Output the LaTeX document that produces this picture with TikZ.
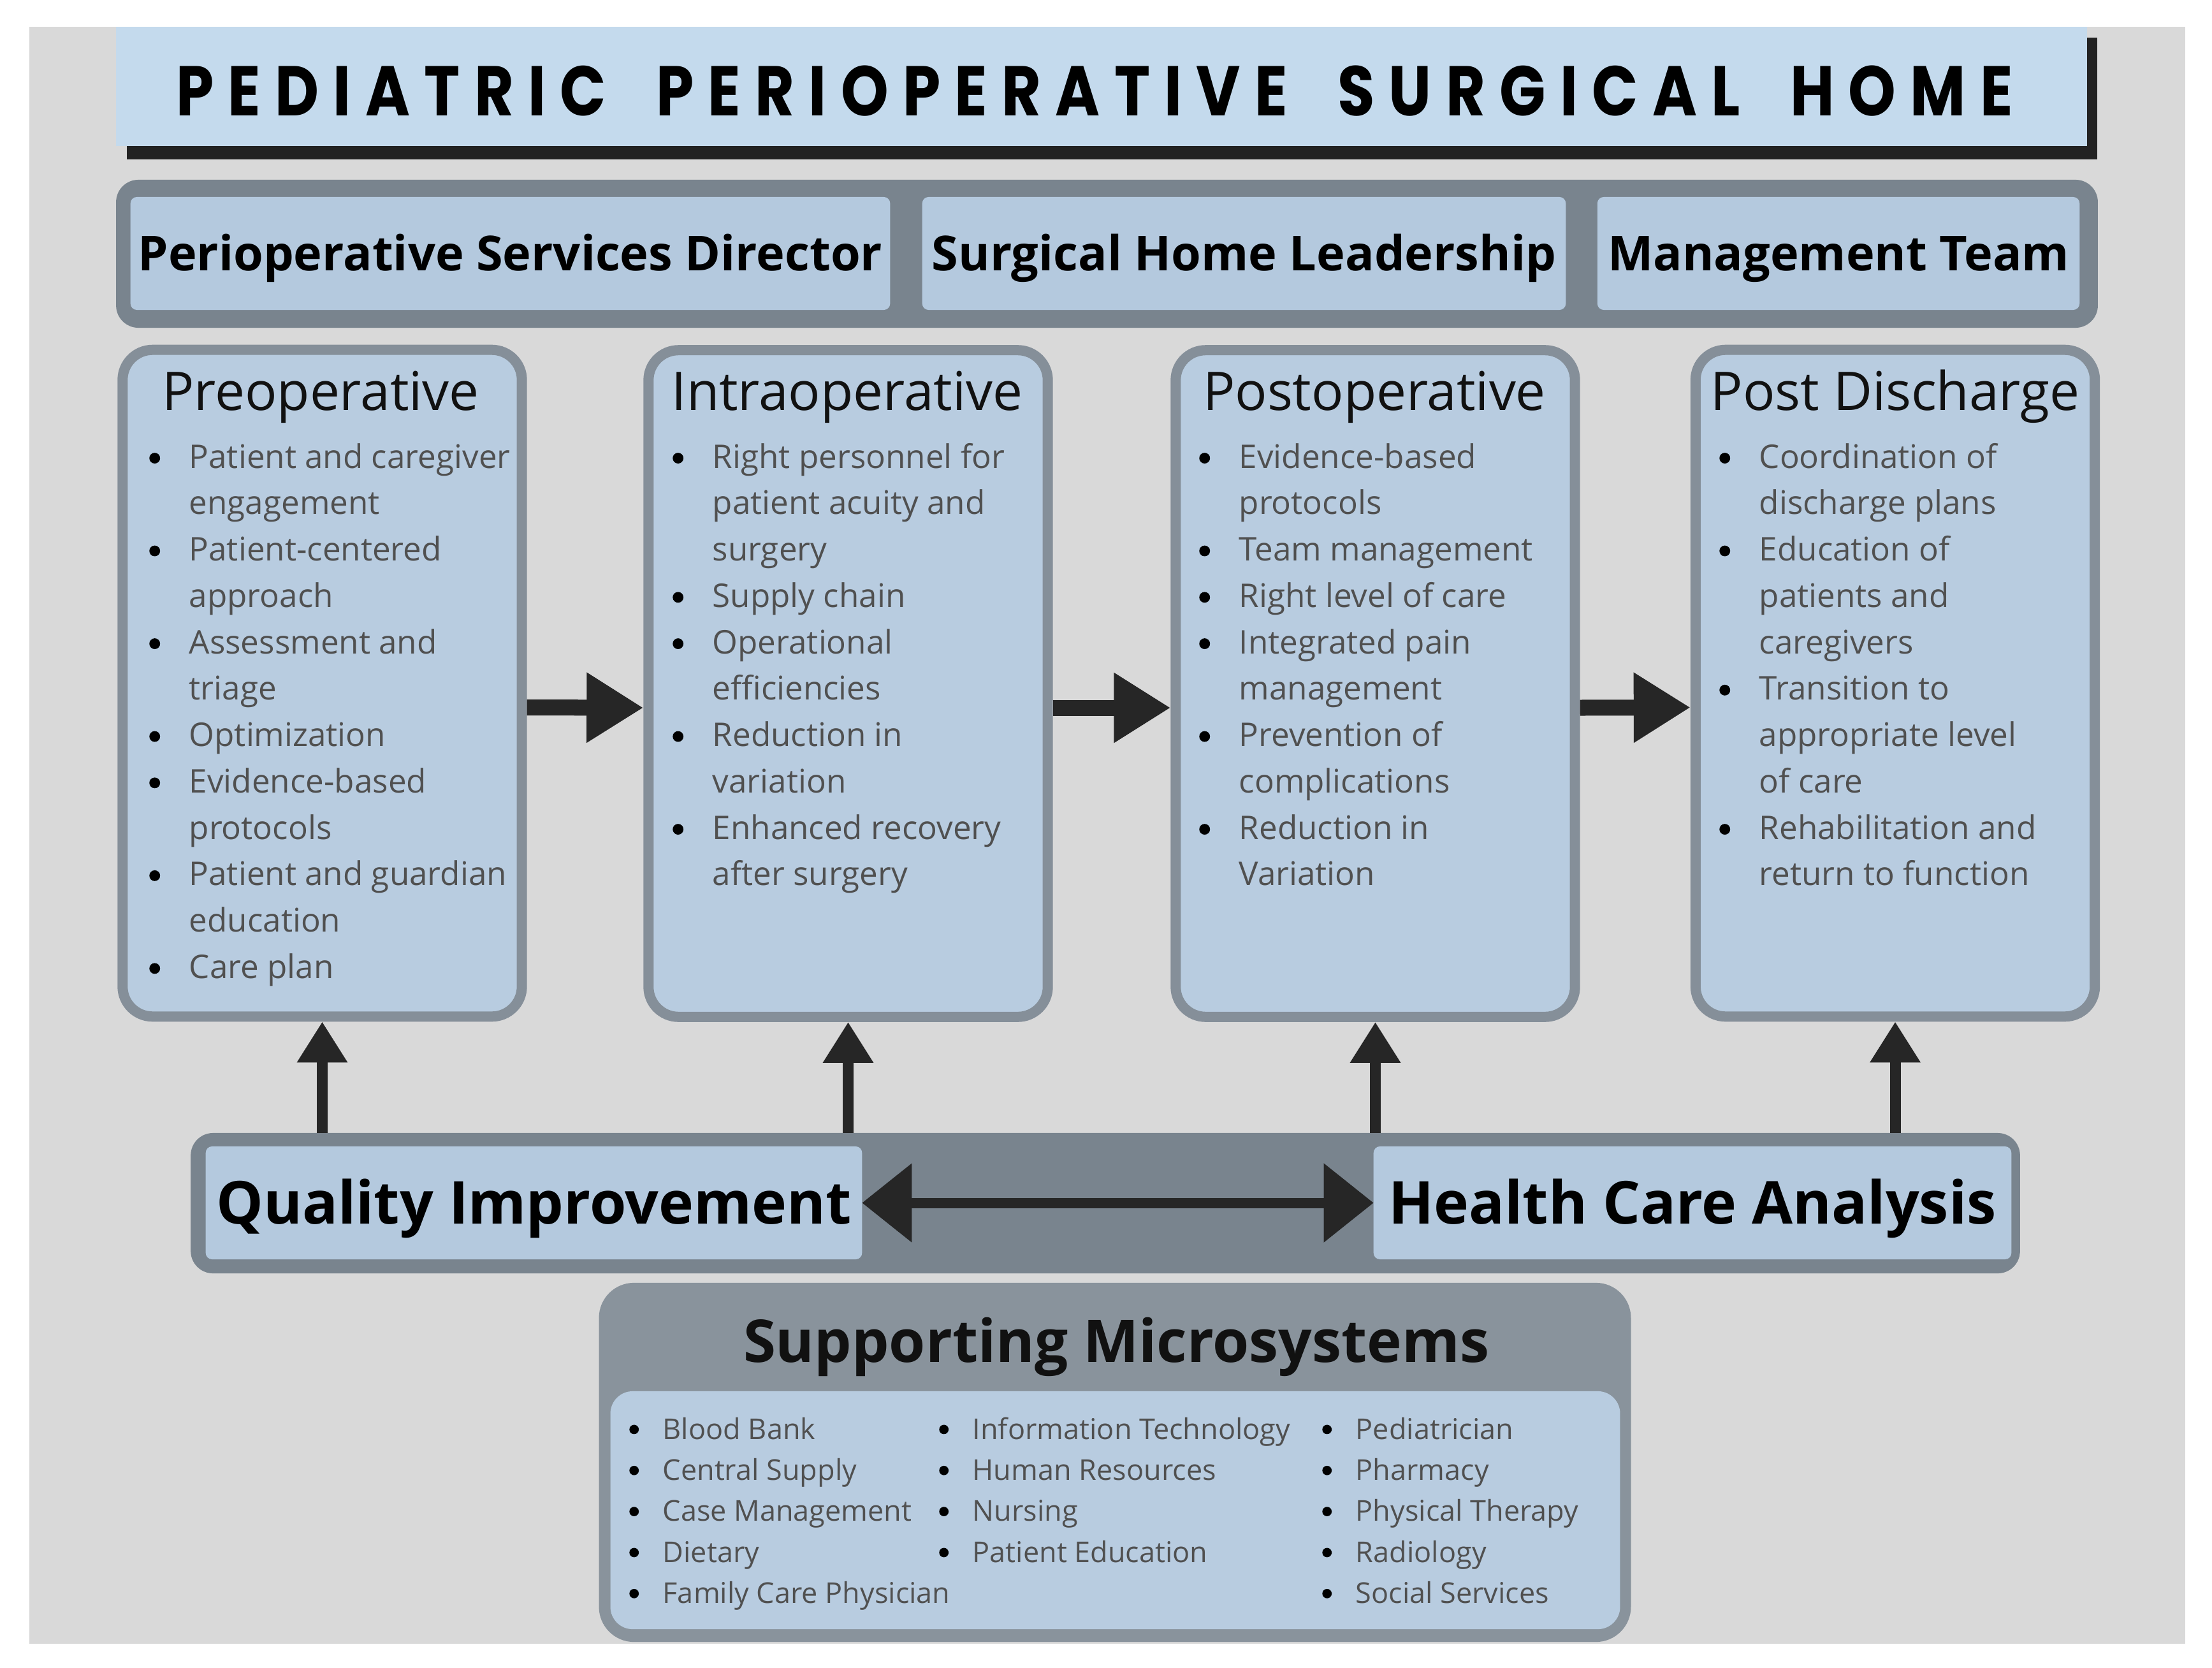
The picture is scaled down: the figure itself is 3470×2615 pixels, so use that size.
\documentclass[tikz,border=0pt]{standalone}
\usepackage{fontspec}
\setmainfont{Open Sans}
\newfontfamily\titlefont{Poppins}[FakeStretch=0.86]
\usetikzlibrary{arrows.meta}
\definecolor{bggray}{HTML}{D9D9D9}
\definecolor{titleblue}{HTML}{C4DAED}
\definecolor{shadowc}{HTML}{222222}
\definecolor{bardark}{HTML}{79848E}
\definecolor{innerblue}{HTML}{B4C9DE}
\definecolor{phaseborder}{HTML}{858F99}
\definecolor{phasefill}{HTML}{B8CCE0}
\definecolor{microouter}{HTML}{89939C}
\definecolor{arrowc}{HTML}{262626}
\definecolor{bodytext}{HTML}{505050}
\definecolor{headtext}{HTML}{111111}
\newcommand{\bulA}{\tikz[baseline=0pt]{\useasboundingbox (0pt,0pt) rectangle (0.64cm,1pt); \fill[black] (0.10cm,4.4pt) circle (2.4pt);}}
\newcommand{\bulB}{\tikz[baseline=0pt]{\useasboundingbox (0pt,0pt) rectangle (0.54cm,1pt); \fill[black] (0.09cm,4.3pt) circle (2.1pt);}}
\newcommand{\mylsp}{\hskip 0pt plus 1fil\relax}
\newcommand{\mywsp}{\hskip 0pt plus 3.5fil\relax}
\begin{document}
\begin{tikzpicture}[x=0.01cm,y=-0.01cm,
  box/.style={inner sep=0pt, outer sep=0pt},
  bar/.style={box, fill=bardark, rounded corners=0.35cm},
  inbox/.style={box, fill=innerblue, rounded corners=0.1cm, minimum height=1.77cm, text height=0.54cm, text depth=0pt, text=black, font=\fontsize{21.5}{26}\selectfont\bfseries},
  lowbox/.style={inbox, text height=0.66cm, font=\fontsize{26.4}{31}\selectfont\bfseries},
  phase/.style={box, draw=phaseborder, line width=0.16cm, fill=phasefill, rounded corners=0.47cm, minimum width=6.26cm, minimum height=10.45cm},
  phasetitle/.style={anchor=base, inner sep=0pt, font=\fontsize{23.8}{28}\selectfont, text=headtext},
  plist/.style={anchor=base west, inner sep=0pt, font=\fontsize{14.55}{20.69}\selectfont, text=bodytext},
  mlist/.style={anchor=base west, inner sep=0pt, font=\fontsize{12.8}{18.3}\selectfont, text=bodytext},
  harrow/.style={draw=arrowc, line width=0.25cm, -{Triangle[length=0.89cm,width=1.04cm]}, shorten <=0.08cm, shorten >=0.08cm},
  uarrow/.style={draw=arrowc, line width=0.17cm, -{Triangle[length=0.64cm,width=0.75cm]}, shorten >=0.08cm},
  darrow/.style={draw=arrowc, line width=0.16cm, {Triangle[length=0.78cm,width=1.2cm]}-{Triangle[length=0.78cm,width=1.2cm]}}
]
\useasboundingbox (0,0) rectangle (3470,2615);
\fill[white] (0,0) rectangle (3470,2615);
\fill[bggray] (46,42) rectangle (3428,2578);

% title
\fill[shadowc] (199,59) rectangle (3290,250);
\node[box, fill=titleblue, minimum width=30.90cm, minimum height=1.87cm] (titlebox) at (1728,135.5) {};
\node[anchor=base, inner sep=0pt, text=black, font=\titlefont\bfseries\fontsize{31.4}{36}\selectfont] (titletext) at (1717,182)
 {\makebox[28.80cm][s]{P\mylsp E\mylsp D\mylsp I\mylsp A\mylsp T\mylsp R\mylsp I\mylsp C\mywsp P\mylsp E\mylsp R\mylsp I\mylsp O\mylsp P\mylsp E\mylsp R\mylsp A\mylsp T\mylsp I\mylsp V\mylsp E\mywsp S\mylsp U\mylsp R\mylsp G\mylsp I\mylsp C\mylsp A\mylsp L\mywsp H\mylsp O\mylsp M\mylsp E}};

% leadership bar
\node[bar, minimum width=31.07cm, minimum height=2.32cm] (lead) at (1736.5,398) {};
\node[inbox, minimum width=11.91cm] (lead1) at (800.5,397.5) {Perioperative Services Director};
\node[inbox, minimum width=10.09cm] (lead2) at (1951.5,397.5) {Surgical Home Leadership};
\node[inbox, minimum width=7.56cm] (lead3) at (2884,397.5) {Management Team};

% phase boxes
\node[phase] (pre) at (505.5,1071.5) {};
\node[phase] (intra) at (1330.5,1072) {};
\node[phase] (post) at (2157.5,1072) {};
\node[phase] (disc) at (2973,1071.5) {};

\node[phasetitle] (pretitle) at (503,643) {Preoperative};
\node[phasetitle] (intratitle) at (1329,643) {Intraoperative};
\node[phasetitle] (posttitle) at (2156,643) {Postoperative};
\node[phasetitle] (disctitle) at (2973,643) {Post Discharge};

\node[plist] (prelist) at (232,734) {\begin{tabular}[t]{@{}l@{}l@{}}
\bulA & Patient and caregiver\\
 & engagement\\
\bulA & Patient-centered\\
 & approach\\
\bulA & Assessment and\\
 & triage\\
\bulA & Optimization\\
\bulA & Evidence-based\\
 & protocols\\
\bulA & Patient and guardian\\
 & education\\
\bulA & Care plan
\end{tabular}};

\node[plist] (intralist) at (1053,734) {\begin{tabular}[t]{@{}l@{}l@{}}
\bulA & Right personnel for\\
 & patient acuity and\\
 & surgery\\
\bulA & Supply chain\\
\bulA & Operational\\
 & efficiencies\\
\bulA & Reduction in\\
 & variation\\
\bulA & Enhanced recovery\\
 & after surgery
\end{tabular}};

\node[plist] (postlist) at (1879,734) {\begin{tabular}[t]{@{}l@{}l@{}}
\bulA & Evidence-based\\
 & protocols\\
\bulA & Team management\\
\bulA & Right level of care\\
\bulA & Integrated pain\\
 & management\\
\bulA & Prevention of\\
 & complications\\
\bulA & Reduction in\\
 & Variation
\end{tabular}};

\node[plist] (disclist) at (2695,734) {\begin{tabular}[t]{@{}l@{}l@{}}
\bulA & Coordination of\\
 & discharge plans\\
\bulA & Education of\\
 & patients and\\
 & caregivers\\
\bulA & Transition to\\
 & appropriate level\\
 & of care\\
\bulA & Rehabilitation and\\
 & return to function
\end{tabular}};

% horizontal arrows
\draw[harrow] ([yshift=-0.38cm]pre.east) -- ([yshift=-0.38cm]intra.west);
\draw[harrow] ([yshift=-0.38cm]intra.east) -- ([yshift=-0.38cm]post.west);
\draw[harrow] ([yshift=-0.38cm]post.east) -- ([yshift=-0.38cm]disc.west);

% bottom bar
\node[bar, minimum width=28.68cm, minimum height=2.20cm] (lowbar) at (1734,1887) {};
\node[lowbox, minimum width=10.29cm] (qi) at (837.5,1886.5) {Quality Improvement};
\node[lowbox, minimum width=10.00cm] (hca) at (2655,1886.5) {Health Care Analysis};
\draw[darrow] (qi.east) -- (hca.west);

% up arrows
\draw[uarrow] (pre.south |- lowbar.north) -- (pre.south);
\draw[uarrow] (intra.south |- lowbar.north) -- (intra.south);
\draw[uarrow] (post.south |- lowbar.north) -- (post.south);
\draw[uarrow] (disc.south |- lowbar.north) -- (disc.south);

% supporting microsystems
\node[box, fill=microouter, rounded corners=0.55cm, minimum width=16.18cm, minimum height=5.63cm] (micro) at (1749,2293.5) {};
\node[box, fill=phasefill, rounded corners=0.35cm, minimum width=15.83cm, minimum height=3.73cm] (microin) at (1749.5,2368.5) {};
\node[anchor=base, inner sep=0pt, text=headtext, font=\fontsize{26.3}{31}\selectfont\bfseries] (microtitle) at (1751,2136) {Supporting Microsystems};

\node[mlist] (mcol1) at (985,2257) {\begin{tabular}[t]{@{}l@{}l@{}}
\bulB & Blood Bank\\
\bulB & Central Supply\\
\bulB & Case Management\\
\bulB & Dietary\\
\bulB & Family Care Physician
\end{tabular}};
\node[mlist] (mcol2) at (1471,2257) {\begin{tabular}[t]{@{}l@{}l@{}}
\bulB & Information Technology\\
\bulB & Human Resources\\
\bulB & Nursing\\
\bulB & Patient Education
\end{tabular}};
\node[mlist] (mcol3) at (2072,2257) {\begin{tabular}[t]{@{}l@{}l@{}}
\bulB & Pediatrician\\
\bulB & Pharmacy\\
\bulB & Physical Therapy\\
\bulB & Radiology\\
\bulB & Social Services
\end{tabular}};
\end{tikzpicture}
\end{document}
